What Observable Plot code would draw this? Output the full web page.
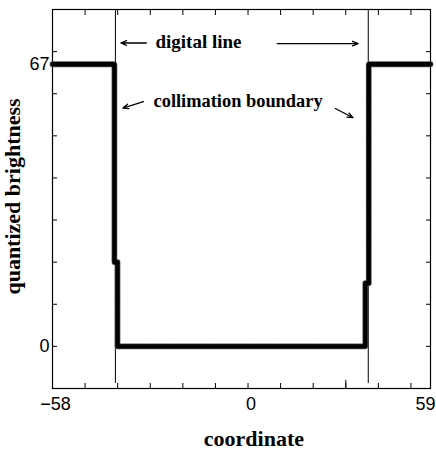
<!DOCTYPE html>
<html><head><meta charset="utf-8">
<script src="https://cdn.jsdelivr.net/npm/d3@7"></script>
<script src="https://cdn.jsdelivr.net/npm/@observablehq/plot@0.6"></script>
<style>body{margin:0;background:#fff} svg{display:block}</style>
</head><body><div id="chart"></div>
<script>
// sample index along the digital line (0..116) and quantized brightness
const curveX = [0, 19.0, 19.0, 19.95, 19.95, 96.0, 96.0, 97.05, 97.05, 116];
const curveY = [67, 67, 20, 20, 0, 0, 15, 15, 67, 67];

// collimation boundaries (digital line end marks)
const digitalX = [19.3, 96.9];
const digitalYFrom = -8.8;

// axes
const xDomain = [0, 116];
const yDomain = [-10, 80];
const xTicks = [10, 20, 30, 40, 50, 60, 70, 80, 90, 100, 110];
const xLongTicks = [90];
const yTicks = [0, 10, 20, 30, 40, 50, 60, 70];
const xLabelPos = [0, 60, 116];
const xLabels = ["\u221258", "0", "59"];
const yLabelPos = [0, 67];
const yLabels = ["0", "67"];

// annotations
const notes = [
  {x: 31.6, y: 72.2, text: "digital line", size: 19},
  {x: 31.0, y: 58.3, text: "collimation boundary", size: 18.4}
];
const arrows = [
  {x1: 28.8, y1: 72.05, x2: 21.0, y2: 72.05},
  {x1: 69.0, y1: 71.9, x2: 93.8, y2: 71.9},
  {x1: 27.9, y1: 58.15, x2: 21.6, y2: 56.6},
  {x1: 86.8, y1: 56.5, x2: 92.2, y2: 54.3}
];
const xTitle = {x: 61.8, text: "coordinate"};
const yTitle = {y: 35.6, text: "quantized brightness"};

const serif = "'Liberation Serif', 'Times New Roman', serif";
const sans = "'Liberation Sans', Arial, sans-serif";
const curve = curveX.map((x, i) => ({x, y: curveY[i]}));

const chart = Plot.plot({
  width: 436, height: 450,
  marginLeft: 52, marginRight: 6, marginTop: 9, marginBottom: 62,
  x: {domain: xDomain, label: null},
  y: {domain: yDomain, label: null},
  style: {background: "white", color: "black", overflow: "visible"},
  marks: [
    Plot.axisX(xTicks, {anchor: "bottom", tickSize: -5, tickFormat: () => "", label: null}),
    Plot.axisX(xLongTicks, {anchor: "bottom", tickSize: -8, tickFormat: () => "", label: null}),
    Plot.axisX(xTicks, {anchor: "top", tickSize: -5, tickFormat: () => "", label: null}),
    Plot.axisY(yTicks, {anchor: "left", tickSize: -5, tickFormat: () => "", label: null}),
    Plot.axisY(yTicks, {anchor: "right", tickSize: -5, tickFormat: () => "", label: null}),
    Plot.frame({stroke: "black", strokeWidth: 1.2}),
    Plot.ruleX(digitalX, {x: d => d, y1: digitalYFrom, y2: yDomain[1], stroke: "black", strokeWidth: 1}),
    Plot.line(curve, {x: "x", y: "y", stroke: "#555", strokeWidth: 5.8, strokeDasharray: "1.3 1.3"}),
    Plot.line(curve, {x: "x", y: "y", stroke: "black", strokeWidth: 4.3}),
    Plot.text([0, 1], {x: i => xLabelPos[i], text: i => xLabels[i], frameAnchor: "bottom", lineAnchor: "top", dy: 9, dx: 3, fontSize: 18, fontFamily: sans}),
    Plot.text([2], {x: i => xLabelPos[i], text: i => xLabels[i], frameAnchor: "bottom", lineAnchor: "top", textAnchor: "end", dy: 9, dx: 5, fontSize: 18, fontFamily: sans}),
    Plot.text(yLabelPos, {y: d => d, text: (d, i) => yLabels[i], frameAnchor: "left", textAnchor: "end", lineAnchor: "middle", dx: -3, fontSize: 18, fontFamily: sans}),
    Plot.text([notes[0]], {x: "x", y: "y", text: "text", textAnchor: "start", lineAnchor: "middle", fontSize: notes[0].size, fontWeight: "bold", fontFamily: serif}),
    Plot.text([notes[1]], {x: "x", y: "y", text: "text", textAnchor: "start", lineAnchor: "middle", fontSize: notes[1].size, fontWeight: "bold", fontFamily: serif}),
    Plot.arrow(arrows, {x1: "x1", y1: "y1", x2: "x2", y2: "y2", stroke: "black", strokeWidth: 1.3, headLength: 7, headAngle: 45}),
    Plot.text([xTitle], {x: "x", text: "text", frameAnchor: "bottom", textAnchor: "middle", lineAnchor: "middle", dy: 50, fontSize: 22, fontWeight: "bold", fontFamily: serif}),
    Plot.text([yTitle], {y: "y", text: "text", frameAnchor: "left", textAnchor: "middle", rotate: -90, lineAnchor: "middle", dx: -39.5, fontSize: 22, fontWeight: "bold", fontFamily: serif})
  ]
});
document.getElementById("chart").appendChild(chart);
</script>
</body></html>
